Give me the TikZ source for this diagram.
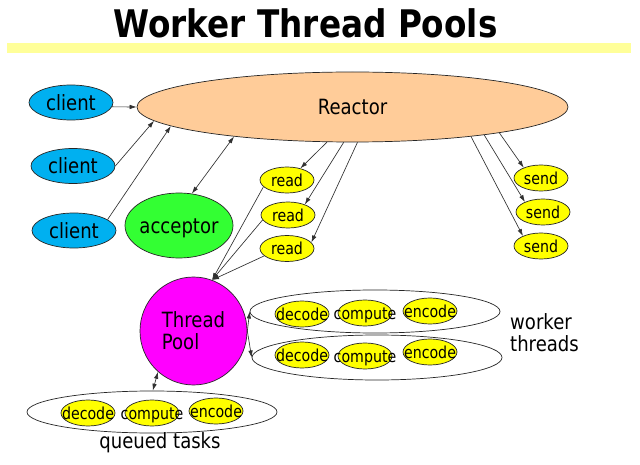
\documentclass[tikz,border=0pt]{standalone}
\usepackage{fontspec}
\setmainfont{DejaVu Sans}[FakeStretch=0.86]
\usetikzlibrary{shapes.geometric,arrows.meta}
\newcommand{\ztext}[1]{\raisebox{-0.37em}[0pt][0pt]{\makebox[0pt]{#1}}}
\newcommand{\bigf}{\fontsize{21pt}{22pt}\selectfont}
\newcommand{\smallf}{\fontsize{16.5pt}{18pt}\selectfont}
\newcommand{\titlef}{\fontsize{38pt}{40pt}\selectfont\bfseries}
\definecolor{clientblue}{HTML}{00B0F0}
\definecolor{reactorpeach}{HTML}{FFCC99}
\definecolor{accgreen}{HTML}{33FF33}
\definecolor{poolmag}{HTML}{FF00FF}
\definecolor{taskyellow}{HTML}{FFFF00}
\definecolor{baryellow}{HTML}{FFFF99}
\definecolor{edgegray}{HTML}{303030}
\tikzset{
  ell/.style={ellipse, draw=black!85, line width=0.7pt, inner sep=0pt},
  task/.style={ell, fill=taskyellow, minimum width=54pt, minimum height=26pt, font=\smallf},
  client/.style={ell, fill=clientblue, minimum width=84pt, minimum height=35pt, font=\bigf},
  group/.style={ell, fill=white},
  conn/.style={draw=edgegray, line width=0.65pt, -{Latex[length=7pt,width=4.5pt]}},
  biconn/.style={draw=edgegray, line width=0.65pt, {Latex[length=7pt,width=4.5pt]}-{Latex[length=7pt,width=4.5pt]}}
}
\begin{document}
\begin{tikzpicture}[x=1pt,y=-1pt]
\fill[white] (0,0) rectangle (640,465);
\useasboundingbox (0,0) rectangle (640,465);

% title and bar
\node[font=\titlef, anchor=base, inner sep=0pt] (title) at (305.5,38) {Worker Thread Pools};
\node[fill=baryellow, minimum width=624pt, minimum height=10pt, inner sep=0pt] (bar) at (319,48) {};

% clients
\node[client] (c1) at (71,102.5) {\ztext{client}};
\node[client] (c2) at (73,166) {\ztext{client}};
\node[client] (c3) at (74,230.5) {\ztext{client}};

% reactor
\node[ell, fill=reactorpeach, minimum width=431pt, minimum height=70pt, font=\bigf] (reactor) at (352.5,107) {\ztext{Reactor}};

% acceptor
\node[ell, fill=accgreen, minimum width=108pt, minimum height=65pt, font=\bigf] (acc) at (179,225.5) {\ztext{acceptor}};

% read / send
\node[task] (r1) at (287,180) {\ztext{read}};
\node[task] (r2) at (288,215) {\ztext{read}};
\node[task] (r3) at (287,248.5) {\ztext{read}};
\node[task] (s1) at (541,178) {\ztext{send}};
\node[task] (s2) at (543,212) {\ztext{send}};
\node[task] (s3) at (541,246) {\ztext{send}};

% thread pool
\node[ell, fill=poolmag, minimum width=107pt, minimum height=108pt, font=\bigf, align=left] (pool) at (193.5,331) {Thread\\Pool};

% worker groups
\node[group, minimum width=250pt, minimum height=43pt] (w1) at (375,311.5) {};
\node[group, minimum width=250pt, minimum height=45pt] (w2) at (377,357.5) {};
\node[group, minimum width=250pt, minimum height=42pt] (q) at (152,412) {};

\node[task] (d1) at (302,314) {\ztext{decode}};
\node[task] (k1) at (365,313) {\ztext{compute}};
\node[task] (e1) at (430,311) {\ztext{encode}};
\node[task] (d2) at (302,355) {\ztext{decode}};
\node[task] (k2) at (365,356) {\ztext{compute}};
\node[task] (e2) at (430,352) {\ztext{encode}};
\node[task] (d3) at (88,413) {\ztext{decode}};
\node[task] (k3) at (152,413) {\ztext{compute}};
\node[task] (e3) at (216,411) {\ztext{encode}};

% labels
\node[font=\bigf, align=left, anchor=west, inner sep=0pt] (wt) at (510,333) {worker\\threads};
\node[font=\bigf, anchor=base, inner sep=0pt] (qt) at (160,448) {queued tasks};

% connectors
\draw[conn] (c1.-6) -- (reactor.west);
\draw[conn] (c2.east) -- (reactor.184);
\draw[conn] (c3.18) -- (reactor.186);
\draw[biconn] (acc.68) -- (reactor.194);
\draw[conn] (reactor.234) -- (r1.41);
\draw[conn] (reactor.256) -- (r2.32);
\draw[conn] (reactor.278) -- (r3.14);
\draw[conn] (r1.196) -- (pool.70);
\draw[conn] (r2.191) -- (pool.70);
\draw[conn] (r3.198) -- (pool.70);
\draw[conn] (reactor.350) -- (s1.149);
\draw[conn] (reactor.348) -- (s2.151);
\draw[conn] (reactor.346) -- (s3.151);
\draw[conn] (pool.east) -- (w1.west);
\draw[conn] (pool.east) -- (w2.west);
\draw[biconn] (pool.229) -- (q.88);
\end{tikzpicture}
\end{document}
